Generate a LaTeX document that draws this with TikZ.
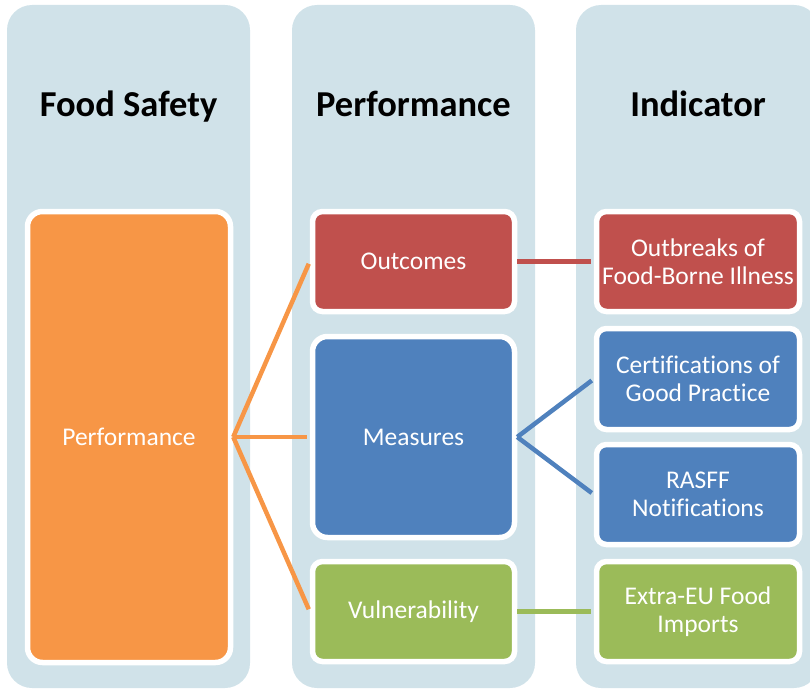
\documentclass[tikz,border=0pt]{standalone}
\usepackage{fontspec}
\setmainfont[Ligatures=CommonOff]{Carlito}
\definecolor{colbg}{RGB}{208,226,233}
\definecolor{perforange}{RGB}{247,150,70}
\definecolor{outcred}{RGB}{192,80,77}
\definecolor{measblue}{RGB}{79,129,189}
\definecolor{vulngreen}{RGB}{155,187,89}

\tikzstyle{column} = [fill=colbg,rounded corners=25pt]
\tikzstyle{title} = [anchor=base,font=\fontsize{36.5}{40}\selectfont\bfseries]
\tikzstyle{box} = [draw=white,line width=5.5pt,rounded corners=10pt,inner sep=0pt,
	minimum width=202pt,minimum height=100pt,align=center,text=white,
	font=\fontsize{25.5}{28}\selectfont]
\tikzstyle{link} = [line width=4.5pt,shorten >=2.5pt]

\begin{document}
\begin{tikzpicture}[x=1pt,y=-1pt]
	\useasboundingbox (0,0) rectangle (810,690);
	\fill[column] (7,5) rectangle (250,688);
	\fill[column] (292,5) rectangle (535,688);
	\fill[column] (576,5) rectangle (819,688);
	\node[title] (t1) at (128.5,117) {Food Safety};
	\node[title] (t2) at (413.5,117) {Performance};
	\node[title] (t3) at (698,117) {Indicator};
	\node[box,fill=perforange,minimum width=203pt,minimum height=451pt,rounded corners=15pt] (perf) at (129,437) {Performance};
	\node[box,fill=outcred] (outc) at (413.5,261.5) {Outcomes};
	\node[box,fill=measblue,minimum height=201pt,rounded corners=15pt] (meas) at (413.5,437) {Measures};
	\node[box,fill=vulngreen] (vuln) at (413.5,611.5) {Vulnerability};
	\node[box,fill=outcred,minimum width=203pt] (outb) at (698,261.5) {Outbreaks of\\Food-Borne Illness};
	\node[box,fill=measblue,minimum width=203pt,minimum height=101pt] (cert) at (698,379) {Certifications of\\Good Practice};
	\node[box,fill=measblue,minimum width=203pt] (rasf) at (698,494.5) {RASFF\\Notifications};
	\node[box,fill=vulngreen,minimum width=203pt] (extr) at (698,611.5) {Extra-EU Food\\Imports};
	\draw[link,perforange] (perf.east) -- (outc.west);
	\draw[link,perforange] (perf.east) -- (meas.west);
	\draw[link,perforange] (perf.east) -- (vuln.west);
	\draw[link,outcred] (outc.east) -- (outb.west);
	\draw[link,measblue] (meas.east) -- (cert.west);
	\draw[link,measblue] (meas.east) -- (rasf.west);
	\draw[link,vulngreen] (vuln.east) -- (extr.west);
	\end{tikzpicture}
\end{document}
